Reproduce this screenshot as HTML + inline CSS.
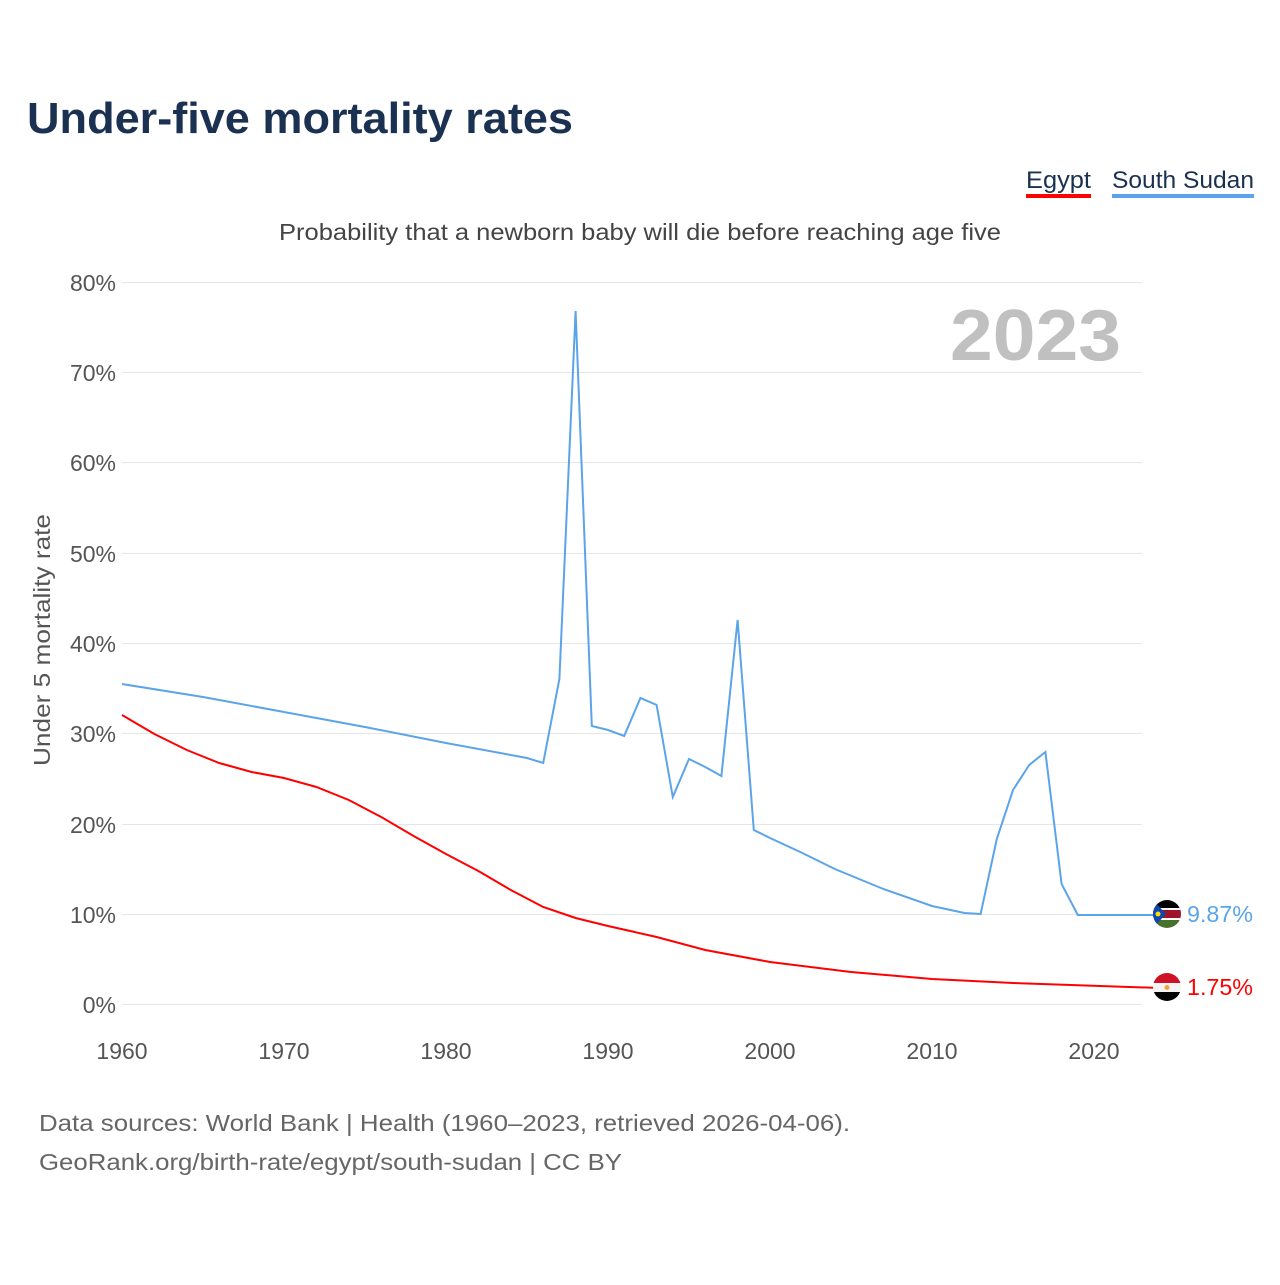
<!DOCTYPE html>
<html><head><meta charset="utf-8"><style>
body{margin:0;background:#fff;width:1280px;height:1280px;overflow:hidden;font-family:"Liberation Sans",sans-serif}
</style></head><body>
<svg width="1280" height="1280" xmlns="http://www.w3.org/2000/svg" font-family="Liberation Sans, sans-serif">
<text x="27" y="133" font-size="44" font-weight="bold" fill="#1b3152" textLength="546" lengthAdjust="spacingAndGlyphs">Under-five mortality rates</text>
<text x="1026" y="188" font-size="24" fill="#1b3152" textLength="65" lengthAdjust="spacingAndGlyphs">Egypt</text>
<rect x="1026" y="194" width="65" height="4" fill="#f00"/>
<text x="1112" y="188" font-size="24" fill="#1b3152" textLength="142" lengthAdjust="spacingAndGlyphs">South Sudan</text>
<rect x="1112" y="194" width="142" height="4" fill="#5ba4ea"/>
<text x="279" y="240" font-size="23" fill="#444" textLength="722" lengthAdjust="spacingAndGlyphs">Probability that a newborn baby will die before reaching age five</text>
<g stroke="#e6e6e6" stroke-width="1">
<line x1="122" x2="1142" y1="282.5" y2="282.5"/><line x1="122" x2="1142" y1="372.5" y2="372.5"/><line x1="122" x2="1142" y1="462.5" y2="462.5"/><line x1="122" x2="1142" y1="553.5" y2="553.5"/><line x1="122" x2="1142" y1="643.5" y2="643.5"/><line x1="122" x2="1142" y1="733.5" y2="733.5"/><line x1="122" x2="1142" y1="824.5" y2="824.5"/><line x1="122" x2="1142" y1="914.5" y2="914.5"/><line x1="122" x2="1142" y1="1004.5" y2="1004.5"/>
</g>
<g font-size="23" fill="#555" text-anchor="end">
<text x="116" y="291">80%</text><text x="116" y="381">70%</text><text x="116" y="471">60%</text><text x="116" y="562">50%</text><text x="116" y="652">40%</text><text x="116" y="742">30%</text><text x="116" y="833">20%</text><text x="116" y="923">10%</text><text x="116" y="1013">0%</text>
</g>
<g font-size="23" fill="#555" text-anchor="middle">
<text x="122" y="1059">1960</text><text x="284" y="1059">1970</text><text x="446" y="1059">1980</text><text x="608" y="1059">1990</text><text x="770" y="1059">2000</text><text x="932" y="1059">2010</text><text x="1094" y="1059">2020</text>
</g>
<text transform="translate(50,640) rotate(-90)" font-size="23" fill="#555" text-anchor="middle" textLength="252" lengthAdjust="spacingAndGlyphs">Under 5 mortality rate</text>
<text x="950" y="360" font-size="72" font-weight="bold" fill="#c0c0c0" textLength="171" lengthAdjust="spacingAndGlyphs">2023</text>
<polyline fill="none" stroke="#5ba4ea" stroke-width="2" points="122,684 203,697 284,712 365,727 446,743 527,758 543.2,763 559.4,679 575.6,311 591.8,726 608,730 624.2,736 640.4,698 656.6,705 672.8,797 689,759 705.2,767 721.4,776 737.6,620 753.8,830 770,838 802.4,853 834.8,869 883.4,889 932,906 964.4,913 980.6,914 996.8,839 1013,790 1029.2,765 1045.4,752 1061.6,884 1077.8,915 1160,915"/>
<polyline fill="none" stroke="#f00" stroke-width="2" points="122,715 154.4,734 186.8,750 219.2,763 251.6,772 284,778 316.4,787 348.8,800 381.2,817 413.6,836 446,854 478.4,871 510.8,890 543.2,907 575.6,918 608,926 656.6,937 705.2,950 770,962 851,972 932,979 1013,983 1160,988"/>
<defs><clipPath id="c1"><circle cx="1167" cy="914" r="14"/></clipPath><clipPath id="c2"><circle cx="1167" cy="987" r="14"/></clipPath></defs>
<g clip-path="url(#c1)">
<rect x="1153" y="900" width="28" height="9" fill="#000"/><rect x="1153" y="909" width="28" height="10" fill="#a0142a"/><rect x="1153" y="919" width="28" height="9" fill="#4a7030"/>
<rect x="1153" y="908" width="28" height="2" fill="#fff"/><rect x="1153" y="918" width="28" height="2" fill="#fff"/>
<polygon points="1153,900 1166,914 1153,928" fill="#0f47af"/><circle cx="1158" cy="914" r="2.5" fill="#fcdd09"/>
</g>
<g clip-path="url(#c2)">
<rect x="1153" y="973" width="28" height="10" fill="#ce1126"/><rect x="1153" y="983" width="28" height="9" fill="#f4f4f4"/><rect x="1153" y="992" width="28" height="10" fill="#000"/>
<circle cx="1167" cy="987.5" r="2.5" fill="#f2a33a"/>
</g>
<text x="1187" y="922" font-size="23" fill="#5ba4ea" textLength="66" lengthAdjust="spacingAndGlyphs">9.87%</text>
<text x="1187" y="995" font-size="23" fill="#f00" textLength="66" lengthAdjust="spacingAndGlyphs">1.75%</text>
<text x="39" y="1131" font-size="23" fill="#666" textLength="811" lengthAdjust="spacingAndGlyphs">Data sources: World Bank | Health (1960–2023, retrieved 2026-04-06).</text>
<text x="39" y="1170" font-size="23" fill="#666" textLength="583" lengthAdjust="spacingAndGlyphs">GeoRank.org/birth-rate/egypt/south-sudan | CC BY</text>
</svg>
</body></html>
